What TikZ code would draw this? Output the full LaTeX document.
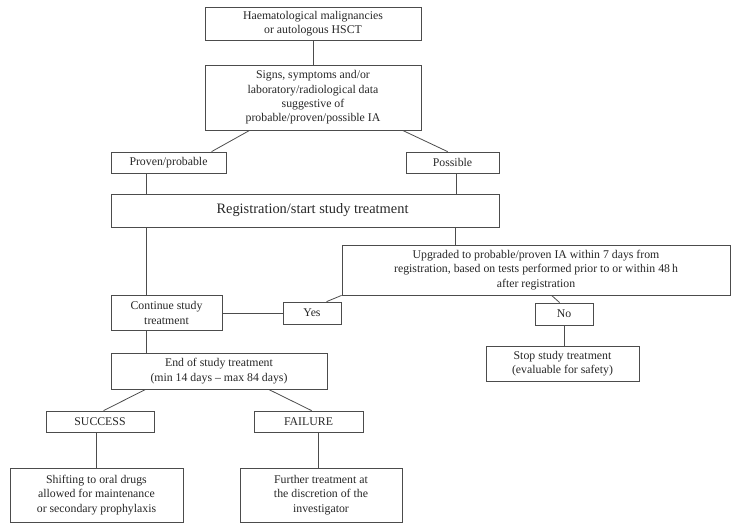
\documentclass[tikz,border=0pt]{standalone}
\usepackage{fontspec}
\setmainfont{Liberation Serif}
\usetikzlibrary{calc, positioning}
\def\boxcolor{black!70}
\def\textcolor{black!85}
\def\bodyfont{\fontsize{11.8}{14.4}\selectfont}
\def\bigfont{\fontsize{14.4}{17}\selectfont}
\tikzset{
% Box
box/.style={
	draw=\boxcolor,
	line width=0.8pt,
	rectangle,
	inner sep=0pt,
	align=center,
	text=\textcolor,
	font=\bodyfont,
	},
% Big label
big/.style={
	font=\bigfont,
	},
% Connection
connection/.style={
	draw=\boxcolor,
	line width=0.8pt,
	},
}
\begin{document}
\begin{tikzpicture}[x=1pt, y=-1pt]
		\useasboundingbox (0,0) rectangle (736,524);
		% Components
		\node[box, minimum width=216pt, minimum height=33pt]
			 (hsct) at (313,23.5) {Haematological malignancies\\or autologous HSCT};

		\node[box, minimum width=216pt, minimum height=65pt]
			 (signs) at (313,97.5) {Signs, symptoms and/or\\laboratory/radiological data\\suggestive of\\probable/proven/possible IA};

		\node[box, minimum width=115pt, minimum height=21pt]
			 (proven) at (168.5,162.5) {Proven/probable};

		\node[box, minimum width=93pt, minimum height=21pt]
			 (possible) at (452.5,162.5) {Possible};

		\node[box, big, minimum width=388pt, minimum height=33pt]
			 (reg_start) at (305,210.5) {\hspace*{15pt}Registration/start study treatment};

		\node[box, minimum width=388pt, minimum height=50pt]
			 (upgraded) at (536,270) {Upgraded to probable/proven IA within 7 days from\\registration, based on tests performed prior to or within 48\,h\\after registration};

		\node[box, minimum width=111pt, minimum height=35pt]
			 (cont_treat) at (166.5,313) {Continue study\\treatment};

		\node[box, minimum width=58pt, minimum height=22pt]
			 (yes) at (312,313) {Yes};

		\node[box, minimum width=58pt, minimum height=22pt]
			 (no) at (564,314) {No};

		\node[box, minimum width=153pt, minimum height=35pt]
			 (stop_treat) at (562.5,363.5) {Stop study treatment\\(evaluable for safety)};

		\node[box, minimum width=216pt, minimum height=36pt]
			 (end_treat) at (219,371) {End of study treatment\\(min 14 days -- max 84 days)};

		\node[box, minimum width=108pt, minimum height=21pt]
			 (success) at (100,421.5) {SUCCESS};

		\node[box, minimum width=109pt, minimum height=21pt]
			 (failure) at (308.5,421.5) {FAILURE};

		\node[box, minimum width=173pt, minimum height=54pt]
			 (oral_drugs) at (96.5,495) {Shifting to oral drugs\\allowed for maintenance\\or secondary prophylaxis};

		\node[box, minimum width=162pt, minimum height=54pt]
			 (further_treat) at (321,495) {Further treatment at\\the discretion of the\\investigator};

		% Connections

		% Top
		\draw[connection] (hsct.south) -- (signs.north);
		\draw[connection] ([xshift=45pt]signs.south west) -- ([xshift=101pt]proven.north west);
		\draw[connection] ([xshift=198pt]signs.south west) -- ([xshift=42pt]possible.north west);

		% Into Registration
		\draw[connection] ([xshift=36pt]proven.south west) -- ([xshift=36pt]proven.south west |- reg_start.north);
		\draw[connection] ([xshift=51pt]possible.south west) -- ([xshift=51pt]possible.south west |- reg_start.north);

		% Out of Registration
		\draw[connection] ([xshift=36pt]reg_start.south west) -- ([xshift=36pt]reg_start.south west |- cont_treat.north);
		\draw[connection] ([xshift=114pt]upgraded.north west |- reg_start.south) -- ([xshift=114pt]upgraded.north west);

		% Upgraded
		\draw[connection] (upgraded.south west) -- ([xshift=44pt]yes.north west);
		\draw[connection] ([xshift=210pt]upgraded.south west) -- ([xshift=25pt]no.north west);
		\draw[connection] (cont_treat.east) -- (yes.west);
		\draw[connection] (no.south) -- (no.south |- stop_treat.north);

		% End of study
		\draw[connection] ([xshift=36pt]cont_treat.south west) -- ([xshift=36pt]cont_treat.south west |- end_treat.north);
		\draw[connection] ([xshift=35pt]end_treat.south west) -- ([xshift=58pt]success.north west);
		\draw[connection] ([xshift=158pt]end_treat.south west) -- ([xshift=58pt]failure.north west);
		\draw[connection] ([xshift=51pt]success.south west) -- ([xshift=51pt]success.south west |- oral_drugs.north);
		\draw[connection] ([xshift=65pt]failure.south west) -- ([xshift=65pt]failure.south west |- further_treat.north);
	\end{tikzpicture}
\end{document}
